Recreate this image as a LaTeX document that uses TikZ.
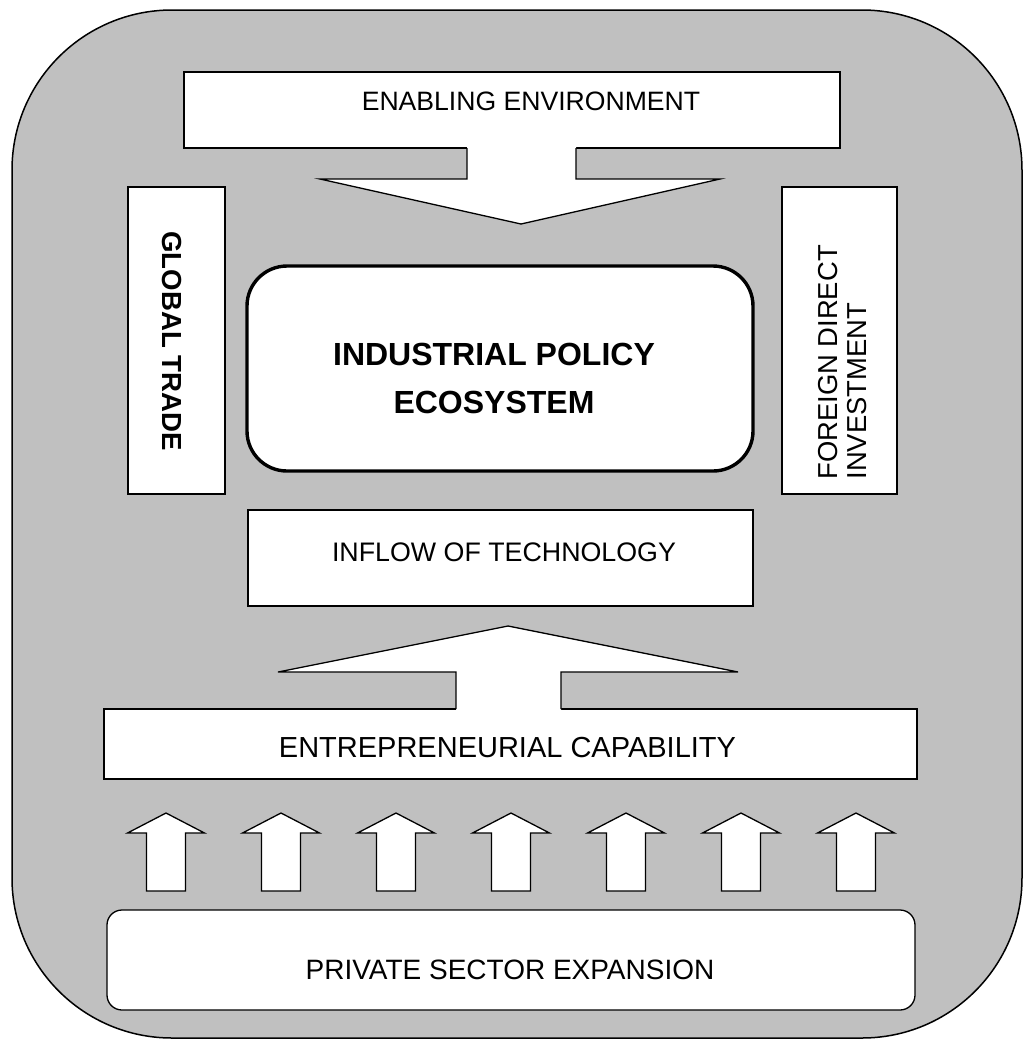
\documentclass[tikz,border=0pt]{standalone}
\usepackage{fontspec}
\setmainfont{Liberation Sans}
\usepackage{tikz}
\definecolor{panelgray}{RGB}{192,192,192}
\tikzset{
    outerpanel/.style={draw, line width=0.75pt, fill=panelgray, rounded corners=80pt},
    plainbox/.style={draw, line width=0.65pt, fill=white, inner sep=0pt},
    blockarrow/.style={draw, line width=0.65pt, line join=miter},
    lbl/.style={inner sep=0pt, align=center},
}

\begin{document}
\begin{tikzpicture}[x=0.5pt, y=-0.5pt]
    \useasboundingbox (0,0) rectangle (1023,1041);
    \draw[outerpanel] (12,10) rectangle (1022,1038);

    % boxes
    \node[plainbox, minimum width=328pt, minimum height=38pt] (env) at (512,110) {};
    \node[plainbox, minimum width=48.5pt, minimum height=153.5pt] (trade) at (176.5,340.5) {};
    \node[plainbox, minimum width=57.5pt, minimum height=153.5pt] (fdi) at (839.5,340.5) {};
    \node[plainbox, rounded corners=20pt, line width=1.7pt, minimum width=253pt, minimum height=102.5pt] (ipe) at (500,368.5) {};
    \node[plainbox, minimum width=252.5pt, minimum height=48pt] (tech) at (500.5,558) {};
    \node[plainbox, minimum width=406.5pt, minimum height=35pt] (entre) at (510.5,744) {};
    \node[plainbox, rounded corners=7.5pt, minimum width=404pt, minimum height=50pt] (pse) at (511,960) {};

    % down arrow out of the environment box
    \fill[white] (467,145) -- (467,179) -- (320,179) -- (521,224) -- (720,179) -- (576,179) -- (576,145) -- cycle;
    \draw[blockarrow] (467,148) -- (467,179) -- (320,179) -- (521,224) -- (720,179) -- (576,179) -- (576,148);

    % up arrow into technology
    \fill[white] (456,712) -- (456,672) -- (278,672) -- (508,626) -- (738,672) -- (561,672) -- (561,712) -- cycle;
    \draw[blockarrow] (456,709) -- (456,672) -- (278,672) -- (508,626) -- (738,672) -- (561,672) -- (561,709);

    % small arrows
    \foreach \ax in {166,281,...,856}
        \draw[blockarrow, fill=white] ({\ax-19.5},891) -- ({\ax-19.5},833) -- ({\ax-38.5},833) -- (\ax,813)
            -- ({\ax+38.5},833) -- ({\ax+19.5},833) -- ({\ax+19.5},891) -- cycle;

    % labels
    \node[lbl, font=\fontsize{13.3}{16}\selectfont] (envtext) at (531,101) {ENABLING ENVIRONMENT};
    \node[lbl, font=\fontsize{13.8}{16}\selectfont\bfseries, rotate=-90] (tradetext) at (172,341) {GLOBAL TRADE};
    \node[lbl, align=left, anchor=west, rotate=90, font=\fontsize{13.7}{14.8}\selectfont] (fditext) at (842.5,480) {FOREIGN DIRECT\\INVESTMENT};
    \node[lbl, font=\fontsize{16}{24}\selectfont\bfseries] (ipetext) at (494,378) {INDUSTRIAL POLICY\\ECOSYSTEM};
    \node[lbl, font=\fontsize{13.4}{16}\selectfont] (techtext) at (504,552) {INFLOW OF TECHNOLOGY};
    \node[lbl, font=\fontsize{14.5}{16}\selectfont] (entretext) at (507.5,748) {ENTREPRENEURIAL CAPABILITY};
    \node[lbl, font=\fontsize{14}{16}\selectfont] (psetext) at (510,970) {PRIVATE SECTOR EXPANSION};
\end{tikzpicture}
\end{document}
